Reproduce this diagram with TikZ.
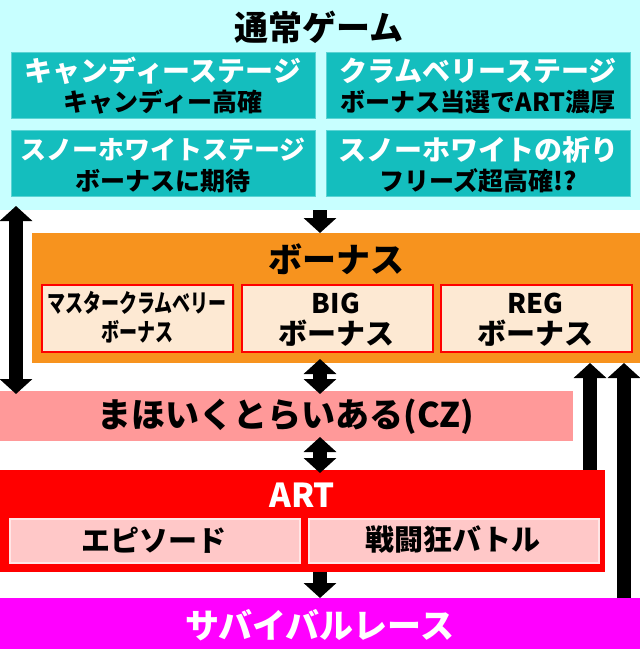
\documentclass[tikz,border=0pt]{standalone}
\usepackage{fontspec}
\setmainfont{Noto Sans CJK JP}[BoldFont={Noto Sans CJK JP Black}]
\usetikzlibrary{arrows.meta}

\definecolor{skyband}{HTML}{C8FFFF}
\definecolor{stagefill}{HTML}{14BEBE}
\definecolor{stageline}{HTML}{5AD4D4}
\definecolor{bonusband}{HTML}{F7931E}
\definecolor{bonusfill}{HTML}{FDE9D3}
\definecolor{czband}{HTML}{FF9999}
\definecolor{artband}{HTML}{FF0000}
\definecolor{artfill}{HTML}{FFC8C8}
\definecolor{artline}{HTML}{FFE6E6}
\definecolor{raceband}{HTML}{FF00FF}

\newcommand{\fsz}[1]{\fontsize{#1}{#1}\selectfont\bfseries}

\tikzset{
  band/.style={anchor=north west, inner sep=0pt, outer sep=0pt, draw=none},
  stagebox/.style={anchor=north west, fill=stagefill, draw=stageline, line width=1pt,
    minimum width=304pt, minimum height=66pt, inner sep=0pt},
  bonusbox/.style={anchor=north west, fill=bonusfill, draw=red, line width=1.5pt,
    minimum width=191pt, minimum height=67pt, inner sep=0pt},
  artbox/.style={anchor=north west, fill=artfill, draw=artline, line width=1.5pt,
    minimum width=290pt, minimum height=44pt, inner sep=0pt},
  txt/.style={inner sep=0pt, text=black},
  flow/.style={line width=14pt, -{Triangle[width=32pt,length=15pt]}},
  flowboth/.style={line width=14pt, {Triangle[width=32pt,length=15pt]}-{Triangle[width=32pt,length=15pt]},
    shorten <=-4pt, shorten >=-3pt},
}

\begin{document}
\begin{tikzpicture}[x=1pt,y=-1pt]
  \useasboundingbox (0,0) rectangle (640,649);
  % bands
  \node[band, fill=skyband, minimum width=640pt, minimum height=210pt] (normal) at (0,0) {};
  \node[band, fill=bonusband, minimum width=608pt, minimum height=130pt] (bonus) at (32,233) {};
  \node[band, fill=czband, minimum width=573pt, minimum height=50pt] (cz) at (0,391) {};
  \node[band, fill=artband, minimum width=605pt, minimum height=102pt] (art) at (0,470) {};
  \node[band, fill=raceband, minimum width=640pt, minimum height=51pt] (race) at (0,598) {};

  % normal game
  \node[txt, font=\fsz{34}] (normaltitle) at (319,27) {通常ゲーム};
  \node[stagebox] (candy) at (11,52) {};
  \node[stagebox] (clam) at (326,52) {};
  \node[stagebox] (snow) at (11,130) {};
  \node[stagebox] (pray) at (326,130) {};
  \node[txt, text=white, font=\fsz{28}] (candyname) at (163,71) {キャンディーステージ};
  \node[txt, font=\fsz{25}] (candynote) at (163,102) {キャンディー高確};
  \node[txt, text=white, font=\fsz{28}] (clamname) at (478,71) {クラムベリーステージ};
  \node[txt, font=\fsz{25}] (clamnote) at (478,102) {ボーナス当選でART濃厚};
  \node[txt, text=white, font=\fsz{26}] (snowname) at (163,150) {スノーホワイトステージ};
  \node[txt, font=\fsz{25}] (snownote) at (163,181) {ボーナスに期待};
  \node[txt, text=white, font=\fsz{28}] (prayname) at (478,150) {スノーホワイトの祈り};
  \node[txt, font=\fsz{25}] (praynote) at (478,181) {フリーズ超高確!?};

  % bonus
  \node[txt, font=\fsz{34}] (bonustitle) at (336,259) {ボーナス};
  \node[bonusbox] (master) at (41,284) {};
  \node[bonusbox] (big) at (241,284) {};
  \node[bonusbox] (reg) at (440,284) {};
  \node[txt, font=\fsz{25}] (mastername) at (137,303) {\scalebox{0.72}[1]{マスタークラムベリー}};
  \node[txt, font=\fsz{25}] (masternote) at (137,332) {\scalebox{0.72}[1]{ボーナス}};
  \node[txt, font=\fsz{27}] (bigname) at (336,303) {BIG};
  \node[txt, font=\fsz{29}] (bignote) at (336,333) {ボーナス};
  \node[txt, font=\fsz{27}] (regname) at (535,303) {REG};
  \node[txt, font=\fsz{29}] (regnote) at (535,333) {ボーナス};

  % cz
  \node[txt, font=\fsz{34}] (cztitle) at (286,417) {まほいくとらいある(CZ)};

  % art
  \node[txt, text=white, font=\fsz{33}] (arttitle) at (302,495) {ART};
  \node[artbox] (episode) at (9,518) {};
  \node[artbox] (battle) at (308,518) {};
  \node[txt, font=\fsz{29}] (episodename) at (154,540) {エピソード};
  \node[txt, font=\fsz{29}] (battlename) at (453,540) {戦闘狂バトル};

  % survival race
  \node[txt, text=white, font=\fsz{34}] (racetitle) at (320,625) {サバイバルレース};

  % arrows
  \coordinate (mid) at (320,0);
  \coordinate (lane) at (16,0);
  \coordinate (back1) at (590,0);
  \coordinate (back2) at (624,0);
  \draw[flow] (normal.south -| mid) -- (bonus.north -| mid);
  \draw[flowboth] (bonus.south -| mid) -- (cz.north -| mid);
  \draw[flowboth] (cz.south -| mid) -- (art.north -| mid);
  \draw[flow] (art.south -| mid) -- (race.north -| mid);
  \draw[flowboth] (normal.south -| lane) -- (cz.north -| lane);
  \draw[flow] (art.north -| back1) -- (bonus.south -| back1);
  \draw[flow] (race.north -| back2) -- (bonus.south -| back2);
\end{tikzpicture}
\end{document}
